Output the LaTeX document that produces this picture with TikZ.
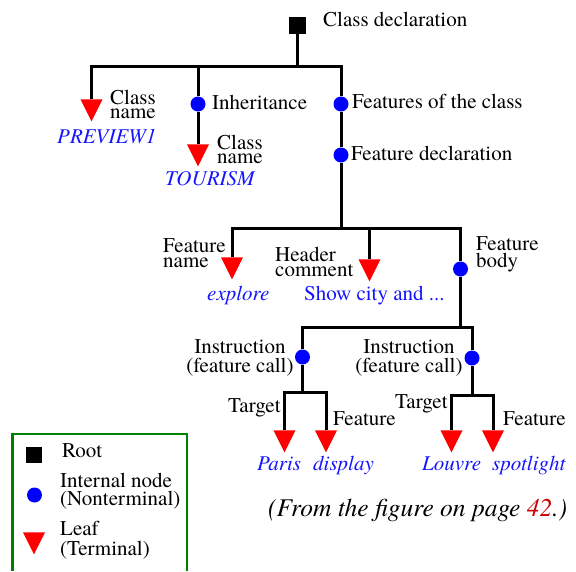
\documentclass[tikz,border=0pt]{standalone}
\usepackage{fontspec}
\setmainfont{TeX Gyre Termes}
\usetikzlibrary{positioning,shapes.geometric}
\definecolor{nodeblue}{RGB}{0,0,255}
\definecolor{leafred}{RGB}{255,0,0}
\definecolor{valblue}{RGB}{20,20,255}
\definecolor{keygreen}{RGB}{0,128,0}
\definecolor{pagered}{RGB}{204,0,0}
\newcommand\lblfont{\fontsize{21}{16}\selectfont}

\begin{document}
\begin{tikzpicture}[x=1pt, y=-1pt,
      rootnode/.style={rectangle, fill=black, minimum size=17pt, inner sep=0pt},
      nonterm/.style={circle, fill=nodeblue, minimum size=15pt, inner sep=0pt},
      term/.style={isosceles triangle, isosceles triangle stretches, shape border rotate=270, fill=leafred, minimum width=22pt, minimum height=22pt, inner sep=0pt, anchor=apex},
      lbl/.style={inner sep=0pt, font=\lblfont, align=left, anchor=base west},
      val/.style={lbl, text=valblue, font=\lblfont\itshape},
      branch/.style={line width=3pt}
    ]
      \useasboundingbox (0,0) rectangle (576,571);

      % tree nodes
      \node[rootnode] (root) at (297.5,25.5) {};
      \node[term] (cname1) at (91.5,122) {};
      \node[nonterm] (inh) at (198,104) {};
      \node[term] (cname2) at (198,167) {};
      \node[nonterm] (feats) at (341,104) {};
      \node[nonterm] (fdecl) at (341,155) {};
      \node[term] (fname) at (232,280) {};
      \node[term] (hcomm) at (369.5,282) {};
      \node[nonterm] (fbody) at (460.5,269) {};
      \node[nonterm] (instr1) at (302.5,357) {};
      \node[nonterm] (instr2) at (472,358) {};
      \node[term] (tgt1) at (284.5,453) {};
      \node[term] (feat1) at (326,453) {};
      \node[term] (tgt2) at (451.5,453) {};
      \node[term] (feat2) at (493,453) {};

      \coordinate (b1) at (297.5,66);
      \coordinate (b2) at (341,228);
      \coordinate (b3) at (460.5,327);
      \coordinate (b4) at (302.5,392);
      \coordinate (b5) at (472,395);

      % branches
      \draw[branch] (root) -- (b1);
      \draw[branch] (cname1) |- (b1);
      \draw[branch] (inh) |- (b1);
      \draw[branch] (feats) |- (b1);
      \draw[branch] (inh) -- (cname2);
      \draw[branch] (feats) -- (fdecl);
      \draw[branch] (fdecl) -- (b2);
      \draw[branch] (fname) |- (b2);
      \draw[branch] (hcomm) |- (b2);
      \draw[branch] (fbody) |- (b2);
      \draw[branch] (fbody) -- (b3);
      \draw[branch] (instr1) |- (b3);
      \draw[branch] (instr2) |- (b3);
      \draw[branch] (instr1) -- (b4);
      \draw[branch] (tgt1) |- (b4);
      \draw[branch] (feat1) |- (b4);
      \draw[branch] (instr2) -- (b5);
      \draw[branch] (tgt2) |- (b5);
      \draw[branch] (feat2) |- (b5);

      % labels (multi-line ones sit on their last line)
      \node[lbl] (decl) at (323,26) {Class declaration};
      \node[lbl] (cn1lbl) at (110,118) {Class\\[-2pt]name};
      \node[val] (prev) at (57,143) {PREVIEW1};
      \node[lbl] (inhlbl) at (212,109) {Inheritance};
      \node[lbl] (cn2lbl) at (217,163) {Class\\[-2pt]name};
      \node[val] (tour) at (165,185) {TOURISM};
      \node[lbl] (featslbl) at (352,108) {Features of the class};
      \node[lbl] (fdecllbl) at (351,160) {Feature declaration};
      \node[lbl] (fnlbl) at (163,267) {Feature\\[-1pt]name};
      \node[lbl] (hclbl) at (275,276) {Header\\[-1pt]comment};
      \node[val] (expl) at (207,300) {explore};
      \node[val, font=\lblfont] (show) at (304,300) {Show city and ...};
      \node[lbl] (fblbl) at (476,267) {Feature\\[1pt]body};
      \node[lbl, align=center, anchor=base] (in1lbl) at (240,372) {Instruction\\[2.5pt](feature call)};
      \node[lbl, align=center, anchor=base] (in2lbl) at (409,372) {Instruction\\[2.5pt](feature call)};
      \node[lbl] (tg1lbl) at (228,412) {Target};
      \node[lbl] (ft1lbl) at (333,425) {Feature};
      \node[lbl] (tg2lbl) at (395,408) {Target};
      \node[lbl] (ft2lbl) at (503,425) {Feature};
      \node[val] (paris) at (257,470) {Paris};
      \node[val] (disp) at (313,470) {display};
      \node[val] (louvre) at (422,470) {Louvre};
      \node[val] (spot) at (492,470) {spotlight};

      \node[lbl, font=\fontsize{25.5}{28}\selectfont\itshape] (source) at (268,516) {(From the figure on page \textcolor{pagered}{42}.)};

      % key
      \draw[keygreen, line width=2.5pt] (12.5,571) |- (187,434) -- (187,571);
      \node[rootnode, minimum size=16pt] (key1) at (34,455) {};
      \node[nonterm] (key2) at (34.5,495) {};
      \node[term] (key3) at (34,555) {};
      \node[lbl] (key1lbl) at (62,457) {Root};
      \node[lbl] (key2lbl) at (60,505) {Internal node\\[2pt](Nonterminal)};
      \node[lbl] (key3lbl) at (60,555) {Leaf\\[4pt](Terminal)};
    \end{tikzpicture}
\end{document}
